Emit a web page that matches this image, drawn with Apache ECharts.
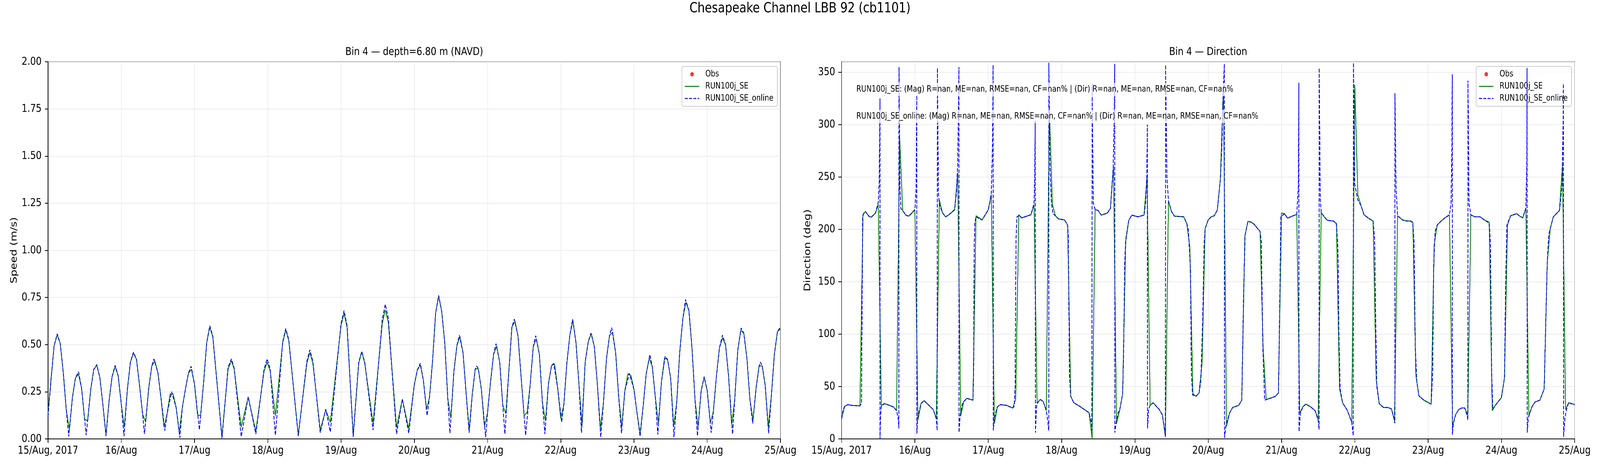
<!DOCTYPE html>
<html>
<head>
<meta charset="utf-8">
<script src="https://cdn.jsdelivr.net/npm/echarts@6.0.0/dist/echarts.min.js"></script>
<style>html,body{margin:0;padding:0;background:#fff;overflow:hidden}#c{width:5000px;height:1200px;transform-origin:0 0}</style>
</head>
<body>
<div id="c"></div>
<script>
const dayLabels = ['15/Aug, 2017','16/Aug','17/Aug','18/Aug','19/Aug','20/Aug','21/Aug','22/Aug','23/Aug','24/Aug','25/Aug'];
const figTitle = 'Chesapeake Channel LBB 92 (cb1101)';
const panelTitles = ['Bin 4 \u2014 depth=6.80 m (NAVD)', 'Bin 4 \u2014 Direction'];
const seriesNames = ['Obs', 'RUN100j_SE', 'RUN100j_SE_online'];
const statsText = [
  'RUN100j_SE: (Mag) R=nan, ME=nan, RMSE=nan, CF=nan% | (Dir) R=nan, ME=nan, RMSE=nan, CF=nan%',
  'RUN100j_SE_online: (Mag) R=nan, ME=nan, RMSE=nan, CF=nan% | (Dir) R=nan, ME=nan, RMSE=nan, CF=nan%'
];
// [hours since 15/Aug 00:00, value]
const obsSpeed = [];
const obsDir = [];
const speedRun = [[0,0.137],[1,0.317],[2,0.493],[3,0.552],[4,0.507],[5,0.352],[6,0.151],[7,0.051],[8,0.220],[9,0.324],[10,0.343],[11,0.269],[12,0.103],[13,0.097],[14,0.262],[15,0.369],[16,0.390],[17,0.324],[18,0.179],[19,0.023],[20,0.200],[21,0.331],[22,0.383],[23,0.334],[24,0.186],[25,0.062],[26,0.262],[27,0.407],[28,0.455],[29,0.421],[30,0.283],[31,0.131],[32,0.089],[33,0.269],[34,0.386],[35,0.414],[36,0.352],[37,0.220],[38,0.062],[39,0.131],[40,0.238],[41,0.238],[42,0.165],[43,0.034],[44,0.165],[45,0.262],[46,0.348],[47,0.369],[48,0.290],[49,0.127],[50,0.124],[51,0.303],[52,0.510],[53,0.593],[54,0.54],[57,0.012],[59,0.37],[60.1,0.415],[61,0.37],[63.3,0.064],[65.6,0.22],[68.1,0.04],[70.8,0.36],[71.8,0.406],[72.8,0.36],[74.5,0.123],[76.9,0.51],[77.9,0.578],[78.9,0.52],[82,0.02],[84.8,0.40],[85.8,0.458],[86.8,0.40],[89.2,0.047],[91,0.154],[92.5,0.088],[96,0.60],[97,0.666],[98,0.59],[100,0.016],[101.8,0.40],[102.8,0.462],[103.8,0.40],[106.5,0.082],[109.5,0.61],[110.5,0.684],[111.5,0.62],[114.2,0.06],[116.1,0.21],[118.2,0.054],[120,0.285],[121,0.365],[122,0.392],[123,0.310],[124,0.158],[125,0.220],[126,0.414],[127,0.666],[128,0.756],[129,0.676],[130,0.510],[131,0.213],[132,0.110],[133,0.359],[134,0.497],[135,0.542],[136,0.455],[137,0.241],[138,0.048],[139,0.234],[140,0.372],[141,0.372],[142,0.262],[143,0.065],[144,0.137],[145,0.303],[146,0.448],[147,0.493],[148,0.407],[149,0.179],[150,0.134],[151,0.359],[152,0.593],[153,0.624],[154,0.545],[155,0.331],[156,0.124],[157,0.141],[158,0.290],[159,0.490],[160,0.531],[161,0.448],[162,0.193],[163,0.096],[164,0.296],[165,0.390],[166,0.396],[167,0.269],[168,0.110],[169,0.179],[170,0.400],[171,0.552],[172,0.626],[173,0.510],[174,0.283],[175,0.072],[176,0.407],[177,0.514],[178,0.559],[179,0.490],[180,0.290],[181,0.055],[182,0.193],[183,0.428],[184,0.549],[185,0.566],[186,0.455],[187,0.220],[188,0.062],[189,0.255],[190,0.346],[191,0.336],[192,0.262],[193,0.137],[194,0.027],[195,0.172],[196,0.345],[197,0.428],[198,0.383],[199,0.220],[200,0.082],[201,0.303],[202,0.428],[203,0.421],[204,0.324],[205,0.068],[206,0.193],[207,0.462],[208,0.638],[209,0.725],[210,0.680],[211,0.483],[212,0.207],[213,0.062],[214,0.255],[215,0.327],[216,0.255],[217,0.086],[218,0.144],[219,0.331],[220,0.483],[221,0.535],[222,0.500],[223,0.331],[224,0.075],[225,0.207],[226,0.469],[227,0.576],[228,0.559],[229,0.428],[230,0.207],[231,0.099],[232,0.269],[233,0.386],[234,0.388],[235,0.283],[236,0.062],[237,0.227],[238,0.448],[239,0.569],[240,0.583]];
const speedOnline = [[0,0.117],[1,0.317],[2,0.493],[3,0.557],[4,0.507],[5,0.352],[6,0.151],[6.8,0.013],[8,0.220],[9,0.324],[10,0.356],[11,0.269],[12.5,0.02],[14,0.262],[15,0.369],[16,0.394],[17,0.324],[18,0.179],[19,0.015],[20,0.200],[21,0.331],[22,0.39],[23,0.334],[24,0.186],[24.9,0.015],[26,0.262],[27,0.407],[28,0.46],[29,0.421],[30,0.283],[31,0.131],[31.6,0.027],[33,0.269],[34,0.386],[34.7,0.424],[36,0.352],[37,0.220],[38.3,0.044],[39,0.131],[40.5,0.25],[42,0.165],[43.2,0.006],[44,0.165],[45,0.262],[46,0.348],[46.9,0.385],[48,0.290],[49.6,0.048],[51,0.303],[52,0.510],[53,0.60],[54,0.545],[57,0.004],[59,0.38],[60.1,0.424],[61,0.375],[63.3,0.012],[65.6,0.223],[68.1,0.026],[70.8,0.37],[71.8,0.424],[72.8,0.37],[74.5,0.019],[76.9,0.515],[77.9,0.585],[78.9,0.525],[82,0.015],[84.8,0.41],[85.8,0.472],[86.8,0.41],[89.2,0.033],[91,0.158],[92.5,0.037],[96,0.61],[97,0.68],[98,0.60],[100,0.01],[101.8,0.405],[102.8,0.464],[103.8,0.405],[106.5,0.047],[109.5,0.63],[110.5,0.714],[111.5,0.64],[114.2,0.026],[116.1,0.212],[118.2,0.03],[120,0.285],[121,0.365],[122,0.401],[123,0.310],[124.2,0.124],[125,0.220],[126,0.414],[127,0.666],[128,0.761],[129,0.676],[130,0.510],[131,0.213],[131.7,0.030],[133,0.359],[134,0.497],[134.8,0.55],[136,0.455],[137,0.241],[138,0.033],[139,0.234],[140,0.372],[140.5,0.386],[141,0.372],[142,0.262],[143.4,0.009],[144,0.137],[145,0.303],[146,0.448],[146.8,0.505],[148,0.407],[149,0.179],[149.7,0.026],[151,0.359],[152,0.593],[152.8,0.635],[154,0.545],[155,0.331],[156.5,0.019],[158,0.290],[159,0.490],[159.8,0.547],[161,0.448],[162,0.193],[162.8,0.026],[164,0.296],[165,0.390],[165.7,0.40],[167,0.269],[168.3,0.089],[169,0.179],[170,0.400],[171,0.552],[171.9,0.635],[173,0.510],[174,0.283],[174.8,0.033],[176,0.407],[177,0.514],[177.9,0.561],[179,0.490],[180,0.290],[181.1,0.009],[182,0.193],[183,0.428],[184,0.549],[184.7,0.59],[186,0.455],[187,0.220],[187.9,0.030],[189,0.255],[190.5,0.347],[192,0.262],[193,0.137],[194,0.013],[195,0.172],[196,0.345],[197.2,0.447],[198,0.383],[199,0.220],[199.8,0.023],[201,0.303],[202.2,0.438],[203,0.421],[204,0.324],[205.1,0.009],[206,0.193],[207,0.462],[208,0.638],[208.9,0.739],[210,0.680],[211,0.483],[212,0.207],[212.8,0.016],[214,0.255],[215,0.330],[216,0.255],[217.3,0.033],[218,0.144],[219,0.331],[220,0.483],[221,0.550],[222,0.500],[223,0.331],[224.3,0.026],[225,0.207],[226,0.469],[227.1,0.588],[228,0.559],[229,0.428],[230,0.207],[230.9,0.082],[232,0.269],[233,0.386],[233.4,0.407],[234,0.388],[235,0.283],[236.1,0.030],[237,0.227],[238,0.448],[239,0.569],[240,0.593]];
const dirRun = [[0,19.5],[1,31],[2,32.7],[3.3,32],[6,31.5],[7,214],[7.8,217],[8.9,212.6],[9.7,211.6],[11.1,215.6],[12,224],[13,32],[14,33.7],[15,32.7],[17,30.5],[18,27],[19,288],[20,218],[21,213.6],[22,212.6],[24,218.6],[25,18],[26,33.7],[27,36.5],[30,28],[31,19.5],[32,228],[33,216],[34,212],[35,213.6],[37,218.6],[38,254],[39,22],[40,35.7],[41,38.7],[43,37],[44,213],[46,209],[48,218.6],[49,233],[50,14.5],[51,30.7],[52,32.7],[54,32],[56,29.5],[57,38],[58,214],[59,211],[60,212],[62,214],[63,223.6],[64,33.7],[65,37.7],[66,35.7],[67,27],[68,318],[69,224],[70,213],[71,210],[73,209],[74,204],[75,40.7],[76,34.5],[78,31],[80,27],[81,25],[82,0.7],[83,219],[84,218],[85,213.6],[87,215.6],[88,220],[89,260.5],[90,14.5],[91,27],[92,43],[93,188],[94,208.6],[95,213.6],[97,212],[99,213.6],[100,250.6],[101,32],[102,34.5],[104,28],[105,23],[106,2],[107,227],[108,217],[109,212.6],[112,212],[113,205.6],[114,183],[115,43],[116,40.7],[117,43.7],[118,72],[119,200.6],[120,209],[121,212],[122,213],[123,218.6],[124,248],[125,338],[126,12],[127,24.5],[128,30],[130,32],[131,37],[132,193],[133,207.6],[134,207],[135,205],[137,198],[138,85.7],[139,37.5],[141,39.5],[142,40.7],[143,43.7],[144,215.6],[145,215],[146,210.6],[147,212],[149,214.3],[150,24.5],[151,30.7],[152,33.2],[153.5,30.7],[155,27],[156,18.7],[157,216],[158,212],[159,208.6],[161,208],[162,205.6],[163,48],[164,34.5],[165.6,27],[167,15.7],[168,338],[169,233],[170,223],[171,214],[172.5,210.6],[174,208],[175,57],[176,33.7],[177.4,30],[178.8,30],[180,28.7],[181,17],[182,213],[183.6,209],[185,208],[186.3,208],[187,206.8],[188,60.7],[189,41],[190.6,37],[193,33.2],[194,185.6],[195,204.3],[196.3,208],[197.5,211],[199,213.6],[200,12],[201,23],[202,28],[203,29.5],[204,29.5],[205,23],[206,213.8],[207.3,212],[209,212],[210.4,209],[212,206.8],[213,27],[214,32],[216,39.5],[217,58.2],[218,204.3],[219,213],[221,215],[222,212.6],[223,211],[224,220.6],[225,22],[226,30.7],[227,35.2],[228.6,37],[230,47.7],[231,168],[232,201],[233,212],[235,218],[236,261.8],[237,28],[238,34.5],[240,32.7]];
const dirOnline = [[0,19],[0.5,28],[1,31],[2,32.7],[3.3,32],[6,31.5],[6.5,34],[6.7,120],[6.9,212],[7.3,216],[7.8,217],[8.9,212.6],[9.7,211.6],[11.1,215.6],[12,226],[12.3,245],[12.5,300],[12.55,325],[12.57,0],[12.75,22],[13,31],[14,33.7],[15,32.7],[17,30.5],[18,27],[18.5,20],[18.75,10],[18.8,355],[19.1,240],[19.4,220],[20,218],[21,213.6],[22,212.6],[24,219],[24.4,240],[24.6,328],[24.65,5],[24.9,20],[26,33.7],[27,36.5],[30,28],[31,19],[31.3,8],[31.35,354],[31.7,235],[32,224],[33,216],[34,212],[35,213.6],[37,219],[37.6,235],[38,262],[38.3,330],[38.4,355],[38.45,6],[38.8,22],[39.5,33],[40,35.7],[41,38.7],[43,37],[43.2,60],[43.4,180],[43.6,206],[44,212],[46,209],[48,218.6],[48.5,225],[49,235],[49.4,280],[49.6,357],[49.65,8],[50,20],[51,30.7],[52,32.7],[54,32],[56,29.5],[56.5,31],[56.8,50],[57.1,190],[57.4,212],[58,213],[59,211],[60,212],[62,214],[63,225],[63.2,250],[63.4,304],[63.45,6],[63.8,30],[64,34],[65,37.7],[66,35.7],[67,27],[67.5,17],[67.8,8],[67.85,359],[68.2,260],[68.7,225],[69.2,215],[70,213],[71,210],[73,209],[74,204],[74.2,195],[74.6,60],[75,40.7],[76,34.5],[78,31],[80,27],[81,25],[81.8,15],[81.95,8],[82,339],[82.4,225],[83,219],[84,218],[85,213.6],[87,215.6],[88,220],[88.9,258],[89.2,300],[89.4,358],[89.45,6],[89.8,14],[90.5,25],[91,27],[92,43],[92.3,80],[92.7,170],[93,190],[94,208.6],[95,213.6],[97,212],[99,213.6],[99.5,225],[99.9,250],[100.1,300],[100.15,10],[100.5,28],[101,32],[102,34.5],[104,28],[105,23],[105.8,8],[106,2],[106.05,357],[106.5,250],[107,227],[108,217],[109,212.6],[112,212],[113,205.6],[113.5,200],[114.2,163],[114.5,63],[114.9,42],[116,40.7],[117,43.7],[117.6,55],[118.2,113],[118.7,188],[119,200.6],[120,209],[121,212],[122,213],[123,218.6],[124,248],[124.5,280],[124.9,330],[125.3,358],[125.35,1],[125.8,12],[126,15],[127,24.5],[128,30],[130,32],[131,37],[131.6,138],[132.1,195],[133,207.6],[134,207],[135,205],[137,198],[137.4,188],[137.9,88],[138.5,37],[139,37.5],[141,39.5],[142,40.7],[143,43.7],[143.4,120],[143.8,212],[145,215],[146,210.6],[147,212],[149,214.3],[149.5,240],[149.7,340],[149.75,7],[150.2,24.5],[151,30.7],[152,33.2],[153.5,30.7],[155,27],[156,18],[156.3,9],[156.35,354],[156.7,230],[157,216],[158,212],[159,208.6],[161,208],[162,205],[162.5,180],[162.8,100],[163.2,48],[164,34.5],[165.6,27],[167,15.7],[167.5,3],[167.55,359],[168,243],[169,228],[170,223],[171,214],[172.5,210.6],[174,208],[174.5,190],[174.8,120],[175.2,50],[176,33.7],[177.4,30],[178.8,30],[180,28.7],[180.8,20],[181.1,15],[181.15,330],[181.5,240],[182,213],[183.6,209],[185,208],[186.3,208],[187,206],[187.4,188],[187.8,88],[188.3,55],[189,41],[190.6,37],[193,33.2],[193.5,63],[193.8,163],[194.3,198],[195,204.3],[196.3,208],[197.5,211],[199,214],[199.5,225],[199.8,280],[199.9,348],[199.95,4],[200.3,15],[201,23],[202,28],[203,29.5],[204,29.5],[204.8,22],[205,18],[205.05,342],[205.4,225],[206,213.8],[207.3,212],[209,212],[210.4,209],[212,206],[212.4,188],[212.8,63],[213.2,28],[214,32],[216,39.5],[217,58.2],[217.4,150],[217.8,204],[219,213],[221,215],[222,212.6],[223,211],[224,220],[224.3,260],[224.4,354],[224.45,6],[224.8,20],[225.2,24],[226,30.7],[227,35.2],[228.6,37],[230,47.7],[230.5,110],[231,168],[231.5,195],[232,201],[233,212],[235,218],[235.8,240],[236.2,300],[236.3,339],[236.35,2],[236.8,20],[237.3,28],[238,34.5],[240,32.7]];

const FONT = 'DejaVu Sans';
// design is 5000x1200; fit it to the real viewport (headless screen may be narrower)
const box = document.getElementById('c');
const vw = window.innerWidth || 5000, vh = window.innerHeight || 1200;
const sx = vw / 5000, sy = vh / 1200;
if (Math.abs(sx - 1) > 0.001 || Math.abs(sy - 1) > 0.001) {
  box.style.transform = 'scale(' + sx + ',' + sy + ')';
}
const chart = echarts.init(box, null, {renderer: 'canvas', width: 5000, height: 1200, devicePixelRatio: 2});

function xAxisFor(gi) {
  return {
    gridIndex: gi, type: 'value', min: 0, max: 240, interval: 24,
    axisLine: {show: true, onZero: false, lineStyle: {color: '#000', width: 2}},
    axisTick: {show: true, length: 10, lineStyle: {color: '#000', width: 2}},
    axisLabel: {show: true, margin: 16, fontSize: 28, color: '#000', fontFamily: FONT,
      formatter: v => dayLabels[Math.round(v / 24)] || '', showMinLabel: true, showMaxLabel: true, hideOverlap: false},
    splitLine: {show: true, lineStyle: {color: '#e6e6e6', width: 1.5}}
  };
}
function yAxisFor(gi, name, min, max, interval, fmt) {
  return {
    gridIndex: gi, type: 'value', min: min, max: max, interval: interval,
    name: name, nameLocation: 'middle', nameGap: 92, nameRotate: 90, nameMoveOverlap: false,
    nameTextStyle: {fontSize: 28, color: '#000', fontFamily: FONT},
    axisLine: {show: true, onZero: false, lineStyle: {color: '#000', width: 2}},
    axisTick: {show: true, length: 10, lineStyle: {color: '#000', width: 2}},
    axisLabel: {show: true, margin: 20, fontSize: 28, color: '#000', fontFamily: FONT, formatter: fmt,
      showMinLabel: true, showMaxLabel: max % interval === 0, hideOverlap: false},
    splitLine: {show: true, lineStyle: {color: '#e6e6e6', width: 1.5}}
  };
}
function legendFor(rightPx) {
  return {
    show: true, orient: 'vertical', right: rightPx, top: 170, align: 'left',
    padding: [9, 12, 9, 8], itemGap: 9, itemWidth: 45, itemHeight: 11,
    backgroundColor: 'rgba(255,255,255,0.8)', borderColor: '#cccccc', borderWidth: 2, borderRadius: 5,
    textStyle: {fontSize: 22, color: '#000', fontFamily: FONT, padding: [0, 0, 0, 14]},
    selectedMode: false,
    data: [
      {name: seriesNames[0], icon: 'circle'},
      {name: seriesNames[1], itemStyle: {opacity: 0}, lineStyle: {width: 2.5}},
      {name: seriesNames[2], itemStyle: {opacity: 0}, lineStyle: {width: 2.5}}
    ]
  };
}
function seriesFor(gi, obs, run, online) {
  return [
    {name: seriesNames[0], type: 'scatter', xAxisIndex: gi, yAxisIndex: gi, data: obs,
      symbol: 'circle', symbolSize: 10, itemStyle: {color: '#ff0000'}},
    {name: seriesNames[1], type: 'line', xAxisIndex: gi, yAxisIndex: gi, data: run,
      symbol: 'none', showSymbol: false, itemStyle: {color: '#008000'},
      lineStyle: {color: '#008000', width: 2.5}, z: 3},
    {name: seriesNames[2], type: 'line', xAxisIndex: gi, yAxisIndex: gi, data: online,
      symbol: 'none', showSymbol: false, itemStyle: {color: '#0000ff'},
      lineStyle: {color: '#0000ff', width: 2.5, type: [9.25, 4]}, z: 4}
  ];
}
function textEl(x, y, text, size, align, extra) {
  return {
    type: 'text', x: x, y: y, z: 50,
    style: Object.assign({text: text, fontSize: size, fontFamily: FONT, fill: '#000',
      align: align, verticalAlign: 'middle', textAlign: align, textVerticalAlign: 'middle'}, extra || {})
  };
}

const option = {
  animation: false,
  backgroundColor: '#ffffff',
  textStyle: {fontFamily: FONT},
  grid: [
    {left: 150, right: 2561, top: 158, bottom: 77, show: true, borderColor: '#000', borderWidth: 2,
      backgroundColor: 'transparent', containLabel: false, outerBoundsMode: 'none'},
    {left: 2630, right: 79, top: 158, bottom: 77, show: true, borderColor: '#000', borderWidth: 2,
      backgroundColor: 'transparent', containLabel: false, outerBoundsMode: 'none'}
  ],
  xAxis: [xAxisFor(0), xAxisFor(1)],
  yAxis: [
    yAxisFor(0, 'Speed (m/s)', 0, 2, 0.25, v => v.toFixed(2)),
    yAxisFor(1, 'Direction (deg)', 0, 360, 50, v => String(Math.round(v)))
  ],
  legend: [legendFor(5000 - 2429), legendFor(5000 - 4911)],
  series: [].concat(seriesFor(0, obsSpeed, speedRun, speedOnline), seriesFor(1, obsDir, dirRun, dirOnline)),
  graphic: [
    textEl(2500, 22, figTitle, 36, 'center'),
    textEl(1294.5, 133, panelTitles[0], 28, 'center'),
    textEl(3775.5, 133, panelTitles[1], 28, 'center'),
    textEl(2672, 229, statsText[0], 22, 'left', {backgroundColor: 'rgba(255,255,255,0.7)', padding: [6, 4, 6, 4]}),
    textEl(2672, 298, statsText[1], 22, 'left', {backgroundColor: 'rgba(255,255,255,0.7)', padding: [6, 4, 6, 4]})
  ]
};
chart.setOption(option);
</script>
</body>
</html>
